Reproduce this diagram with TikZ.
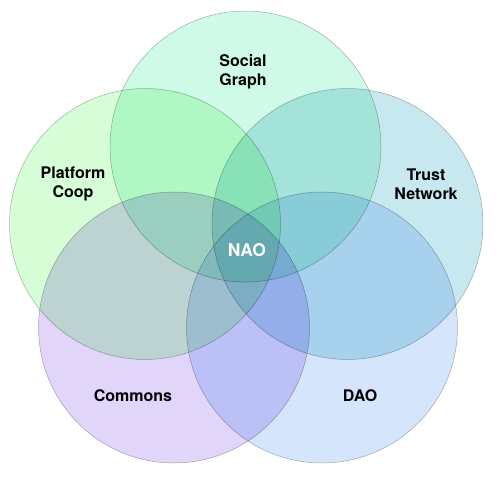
\documentclass[tikz,border=0pt]{standalone}
\usepackage{xcolor}
\usepackage{tikz}
\usepackage{fontspec}
\setmainfont{TeX Gyre Heros}

\definecolor{socialc}{RGB}{208,250,232}
\definecolor{platformc}{RGB}{215,253,215}
\definecolor{trustc}{RGB}{200,232,240}
\definecolor{commonsc}{RGB}{225,213,250}
\definecolor{daoc}{RGB}{213,230,252}

\tikzset{
    setc/.style={draw=black!30, line width=0.5pt, circle, minimum size=271pt, inner sep=0pt},
    setlabel/.style={align=center, font=\fontsize{16}{19}\selectfont\bfseries, text=black}
}

\begin{document}
\begin{tikzpicture}[x=1pt, y=-1pt]
    \useasboundingbox (0,0) rectangle (498,479);

    \begin{scope}[blend group=multiply]
    % Social Graph
    \node[setc, fill=socialc] (sg) at (245.5,146.5) {};

    % Platform Coop
    \node[setc, fill=platformc] (pc) at (145,224) {};

    % Trust Network
    \node[setc, fill=trustc] (tn) at (347.5,224) {};

    % Commons
    \node[setc, fill=commonsc] (cm) at (174,327.5) {};

    % DAO
    \node[setc, fill=daoc] (dao) at (322,327.5) {};
    \end{scope}

    % Labels
    \node[setlabel] (sglabel) at (243,72) {Social\\Graph};
    \node[setlabel] (pclabel) at (73,184) {Platform\\Coop};
    \node[setlabel] (tnlabel) at (426,184) {Trust\\Network};
    \node[setlabel] (cmlabel) at (133,396) {Commons};
    \node[setlabel] (daolabel) at (360,396) {DAO};
    \node[setlabel, text=white, font=\fontsize{17.5}{20}\selectfont\bfseries] (nao) at (247,250) {NAO};
\end{tikzpicture}
\end{document}
